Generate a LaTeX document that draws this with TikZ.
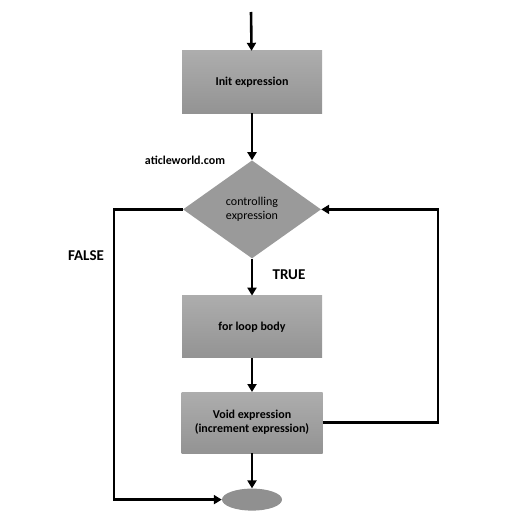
\documentclass[tikz,border=0pt]{standalone}
\usepackage{fontspec}
\setmainfont{Carlito}
\usetikzlibrary{arrows.meta,positioning,shapes.geometric}
\definecolor{boxTop}{HTML}{ADADAD}
\definecolor{boxBot}{HTML}{939393}
\definecolor{decFill}{HTML}{9A9A9A}

\begin{document}
\begin{tikzpicture}[x=1pt, y=1pt,
          blk/.style={top color=boxTop, bottom color=boxBot, draw=none,
            font=\fontsize{12}{14}\selectfont\bfseries, inner sep=2pt,
            minimum width=140pt, minimum height=62pt, align=center},
          dec/.style={diamond, fill=decFill, inner sep=0pt, aspect=1.4,
            minimum width=138pt, minimum height=98pt,
            font=\fontsize{12}{14}\selectfont, align=center},
          lbl/.style={font=\fontsize{15}{17}\selectfont\bfseries},
          arr/.style={-{Triangle[length=8pt,width=9pt]}, line width=2.6pt}]
        \useasboundingbox (0,0) rectangle (516,-519);
        \node[blk] (init) at (252,-82) {Init expression};
        \node[dec, below=47pt of init] (cond) {controlling\\expression};
        \node[blk, below=37pt of cond] (body) {for loop body};
        \node[blk, below=34pt of body, minimum width=141pt, minimum height=61pt]
          (incr) {Void expression\\(increment expression)};
        \node[ellipse, fill=decFill!110!white, minimum width=60pt, minimum height=22pt,
          inner sep=0pt, below=35pt of incr] (stop) {};
        \node[font=\fontsize{12}{14}\selectfont\bfseries] (site) at (185,-160) {aticleworld.com};
        \node[lbl] (true) at (289,-275) {TRUE};
        \node[lbl] (false) at (86,-256) {FALSE};
        \coordinate (start) at (251,-12);
        \coordinate (lft) at (114,-300);
        \coordinate (rgt) at (438,-300);
        \draw[arr] (start) -- (init);
        \draw[arr] (init) -- (cond);
        \draw[arr] (cond) -- (body);
        \draw[arr] (body) -- (incr);
        \draw[arr] (incr) -- (stop);
        \draw[arr] (cond.west) -| (lft) |- (stop.west);
        \draw[arr] (incr.east) -| (rgt) |- (cond.east);
      \end{tikzpicture}
\end{document}
